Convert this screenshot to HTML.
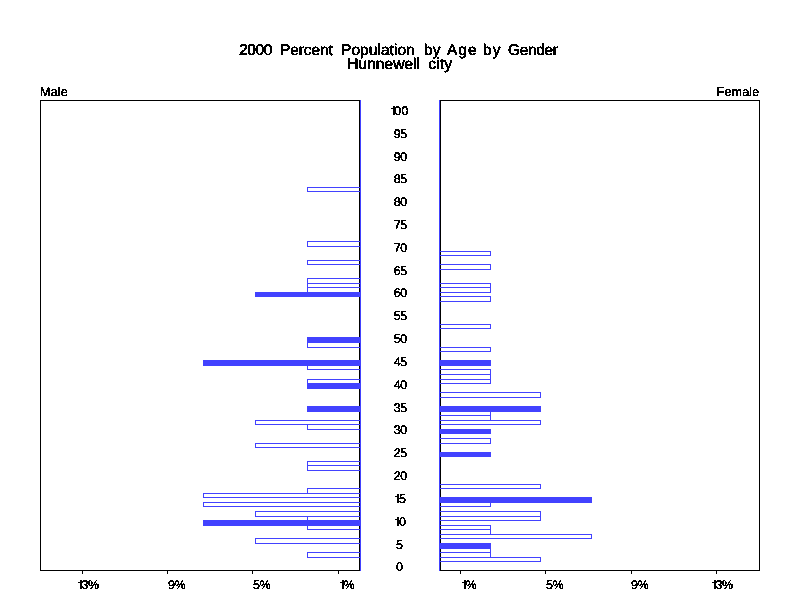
<!DOCTYPE html>
<html><head><meta charset="utf-8"><title>2000 Percent Population by Age by Gender</title>
<style>
html,body{margin:0;padding:0;background:#fff;}
body{width:800px;height:600px;position:relative;overflow:hidden;font-family:"Liberation Sans",sans-serif;color:#000;}
div,span{position:absolute;box-sizing:border-box;white-space:nowrap;}
.fr{border:1px solid #000;}
.ax{background:#4242ff;width:1px;}
.b{border:1px solid #4242ff;}
.f{background:#4242ff;}
.tk{background:#000;width:1px;height:3px;top:571px;}
.t{font-size:15.5px;line-height:14px;height:14px;-webkit-text-stroke:0.4px #000;}
.l{font-size:12.5px;line-height:12px;height:12px;letter-spacing:-0.5px;-webkit-text-stroke:0.4px #000;}
.a{font-size:12.5px;line-height:12px;height:12px;letter-spacing:-0.5px;width:40px;left:380.3px;text-align:center;-webkit-text-stroke:0.4px #000;}
.h{font-size:12.5px;line-height:12px;height:12px;letter-spacing:0.2px;-webkit-text-stroke:0.4px #000;}
.t,.l,.a,.h{filter:url(#thr);text-rendering:geometricPrecision;}
.t{filter:url(#thr2);}
.o{display:inline-block;vertical-align:baseline;shape-rendering:crispEdges;margin-right:-0.4px;}
</style></head><body>
<svg width="0" height="0" style="position:absolute"><defs><filter id="thr" x="0" y="0" width="100%" height="100%" color-interpolation-filters="sRGB"><feComponentTransfer><feFuncA type="discrete" tableValues="0 1"/></feComponentTransfer></filter><filter id="thr2" x="0" y="0" width="100%" height="100%" color-interpolation-filters="sRGB"><feComponentTransfer><feFuncA type="discrete" tableValues="0 0 1 1 1"/></feComponentTransfer></filter></defs></svg>

<span class="t" style="left:239.0px;top:43.7px;letter-spacing:-0.4px">2000</span>
<span class="t" style="left:280.0px;top:43.7px;letter-spacing:-0.1px">Percent</span>
<span class="t" style="left:341.0px;top:43.7px;letter-spacing:0.05px">Population</span>
<span class="t" style="left:424.0px;top:43.7px;letter-spacing:0.05px">by</span>
<span class="t" style="left:447.0px;top:43.7px;letter-spacing:1.0px">Age</span>
<span class="t" style="left:483.0px;top:43.7px;letter-spacing:1.05px">by</span>
<span class="t" style="left:508.0px;top:43.7px;letter-spacing:-0.35px">Gender</span>
<span class="t" style="left:347.25px;top:57.7px;letter-spacing:0.05px">Hunnewell</span>
<span class="t" style="left:428.2px;top:57.7px;letter-spacing:0.2px">city</span>
<span class="h" style="left:40px;top:86px">Male</span>
<span class="h" style="right:40.5px;top:86px">Female</span>
<div class="fr" style="left:40px;top:100px;width:320px;height:471px"></div>
<div class="fr" style="left:440px;top:100px;width:320px;height:471px"></div>
<div class="b" style="left:307px;top:552px;width:54px;height:6px"></div>
<div class="b" style="left:255px;top:538px;width:106px;height:6px"></div>
<div class="b" style="left:307px;top:525px;width:54px;height:5px"></div>
<div class="b f" style="left:203px;top:520px;width:158px;height:6px"></div>
<div class="b" style="left:307px;top:516px;width:54px;height:5px"></div>
<div class="b" style="left:255px;top:511px;width:106px;height:6px"></div>
<div class="b" style="left:203px;top:502px;width:158px;height:5px"></div>
<div class="b" style="left:203px;top:493px;width:158px;height:5px"></div>
<div class="b" style="left:307px;top:488px;width:54px;height:6px"></div>
<div class="b" style="left:307px;top:465px;width:54px;height:6px"></div>
<div class="b" style="left:307px;top:461px;width:54px;height:5px"></div>
<div class="b" style="left:255px;top:443px;width:106px;height:5px"></div>
<div class="b" style="left:307px;top:424px;width:54px;height:6px"></div>
<div class="b" style="left:255px;top:420px;width:106px;height:5px"></div>
<div class="b f" style="left:307px;top:406px;width:54px;height:6px"></div>
<div class="b f" style="left:307px;top:383px;width:54px;height:6px"></div>
<div class="b" style="left:307px;top:379px;width:54px;height:5px"></div>
<div class="b" style="left:307px;top:365px;width:54px;height:5px"></div>
<div class="b f" style="left:203px;top:360px;width:158px;height:6px"></div>
<div class="b" style="left:307px;top:342px;width:54px;height:6px"></div>
<div class="b f" style="left:307px;top:337px;width:54px;height:6px"></div>
<div class="b f" style="left:255px;top:292px;width:106px;height:5px"></div>
<div class="b" style="left:307px;top:287px;width:54px;height:6px"></div>
<div class="b" style="left:307px;top:283px;width:54px;height:5px"></div>
<div class="b" style="left:307px;top:278px;width:54px;height:6px"></div>
<div class="b" style="left:307px;top:260px;width:54px;height:5px"></div>
<div class="b" style="left:307px;top:241px;width:54px;height:6px"></div>
<div class="b" style="left:307px;top:187px;width:54px;height:5px"></div>
<div class="b" style="left:439px;top:557px;width:102px;height:5px"></div>
<div class="b" style="left:439px;top:552px;width:52px;height:6px"></div>
<div class="b" style="left:439px;top:548px;width:52px;height:5px"></div>
<div class="b f" style="left:439px;top:543px;width:52px;height:6px"></div>
<div class="b" style="left:439px;top:534px;width:153px;height:5px"></div>
<div class="b" style="left:439px;top:529px;width:52px;height:6px"></div>
<div class="b" style="left:439px;top:525px;width:52px;height:5px"></div>
<div class="b" style="left:439px;top:516px;width:102px;height:5px"></div>
<div class="b" style="left:439px;top:511px;width:102px;height:6px"></div>
<div class="b" style="left:439px;top:502px;width:52px;height:5px"></div>
<div class="b f" style="left:439px;top:497px;width:153px;height:6px"></div>
<div class="b" style="left:439px;top:484px;width:102px;height:5px"></div>
<div class="b f" style="left:439px;top:452px;width:52px;height:5px"></div>
<div class="b" style="left:439px;top:438px;width:52px;height:6px"></div>
<div class="b f" style="left:439px;top:429px;width:52px;height:5px"></div>
<div class="b" style="left:439px;top:420px;width:102px;height:5px"></div>
<div class="b" style="left:439px;top:415px;width:52px;height:6px"></div>
<div class="b" style="left:439px;top:411px;width:52px;height:5px"></div>
<div class="b f" style="left:439px;top:406px;width:102px;height:6px"></div>
<div class="b" style="left:439px;top:392px;width:102px;height:6px"></div>
<div class="b" style="left:439px;top:379px;width:52px;height:5px"></div>
<div class="b" style="left:439px;top:374px;width:52px;height:6px"></div>
<div class="b" style="left:439px;top:369px;width:52px;height:6px"></div>
<div class="b f" style="left:439px;top:360px;width:52px;height:6px"></div>
<div class="b" style="left:439px;top:347px;width:52px;height:5px"></div>
<div class="b" style="left:439px;top:324px;width:52px;height:5px"></div>
<div class="b" style="left:439px;top:296px;width:52px;height:6px"></div>
<div class="b" style="left:439px;top:287px;width:52px;height:6px"></div>
<div class="b" style="left:439px;top:283px;width:52px;height:5px"></div>
<div class="b" style="left:439px;top:264px;width:52px;height:6px"></div>
<div class="b" style="left:439px;top:251px;width:52px;height:5px"></div>
<div class="ax" style="left:360px;top:100px;height:471px"></div>
<div class="ax" style="left:439px;top:100px;height:471px"></div>
<div class="tk" style="left:82px"></div>
<div class="tk" style="left:167px"></div>
<div class="tk" style="left:252px"></div>
<div class="tk" style="left:338px"></div>
<div class="tk" style="left:460px"></div>
<div class="tk" style="left:545px"></div>
<div class="tk" style="left:631px"></div>
<div class="tk" style="left:716px"></div>
<span class="l" style="left:78px;top:579px"><svg class="o" width="4" height="9" viewBox="0 0 4 9"><path d="M2 0h2v9h-2zM0 2h2v1h-2z"/></svg>3%</span>
<span class="l" style="left:168px;top:579px">9%</span>
<span class="l" style="left:253px;top:579px">5%</span>
<span class="l" style="left:340px;top:579px"><svg class="o" width="4" height="9" viewBox="0 0 4 9"><path d="M2 0h2v9h-2zM0 2h2v1h-2z"/></svg>%</span>
<span class="l" style="left:462px;top:579px"><svg class="o" width="4" height="9" viewBox="0 0 4 9"><path d="M2 0h2v9h-2zM0 2h2v1h-2z"/></svg>%</span>
<span class="l" style="left:546px;top:579px">5%</span>
<span class="l" style="left:631px;top:579px">9%</span>
<span class="l" style="left:712px;top:579px"><svg class="o" width="4" height="9" viewBox="0 0 4 9"><path d="M2 0h2v9h-2zM0 2h2v1h-2z"/></svg>3%</span>
<span class="a" style="top:561px;left:379.3px">0</span>
<span class="a" style="top:539px;left:379.3px">5</span>
<span class="a" style="top:516px"><svg class="o" width="4" height="9" viewBox="0 0 4 9"><path d="M2 0h2v9h-2zM0 2h2v1h-2z"/></svg>0</span>
<span class="a" style="top:493px"><svg class="o" width="4" height="9" viewBox="0 0 4 9"><path d="M2 0h2v9h-2zM0 2h2v1h-2z"/></svg>5</span>
<span class="a" style="top:470px">20</span>
<span class="a" style="top:447px">25</span>
<span class="a" style="top:424px">30</span>
<span class="a" style="top:402px">35</span>
<span class="a" style="top:379px">40</span>
<span class="a" style="top:356px">45</span>
<span class="a" style="top:333px">50</span>
<span class="a" style="top:310px">55</span>
<span class="a" style="top:287px">60</span>
<span class="a" style="top:265px">65</span>
<span class="a" style="top:242px">70</span>
<span class="a" style="top:219px">75</span>
<span class="a" style="top:196px">80</span>
<span class="a" style="top:173px">85</span>
<span class="a" style="top:151px">90</span>
<span class="a" style="top:128px">95</span>
<span class="a" style="top:105px;letter-spacing:0.1px;left:379.6px"><svg class="o" width="4" height="9" viewBox="0 0 4 9"><path d="M2 0h2v9h-2zM0 2h2v1h-2z"/></svg>00</span>
</body></html>
